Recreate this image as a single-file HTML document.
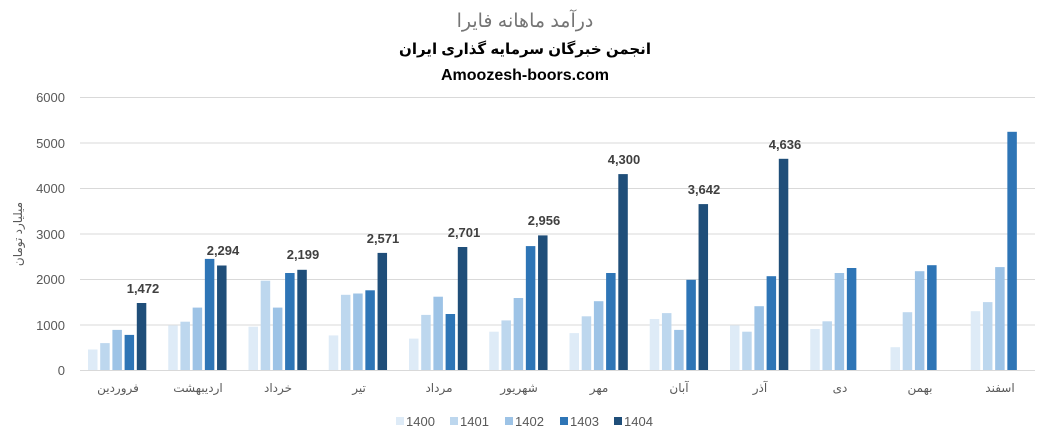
<!DOCTYPE html>
<html><head><meta charset="utf-8"><style>body{margin:0;background:#fff}svg{display:block}</style></head><body>
<svg width="1050" height="440" xmlns="http://www.w3.org/2000/svg" font-family="Liberation Sans, DejaVu Sans, sans-serif">
<text x="525" y="27" text-anchor="middle" font-size="19" fill="#757575">درآمد ماهانه فایرا</text>
<text x="525" y="54" text-anchor="middle" font-size="15" font-weight="bold" fill="#000">انجمن خبرگان سرمایه گذاری ایران</text>
<text x="525" y="80" text-anchor="middle" font-size="16" font-weight="bold" fill="#000">Amoozesh-boors.com</text>
<g stroke="#d9d9d9" stroke-width="1">
<line x1="80" x2="1035" y1="97.5" y2="97.5"/><line x1="80" x2="1035" y1="143" y2="143"/><line x1="80" x2="1035" y1="188.5" y2="188.5"/><line x1="80" x2="1035" y1="234" y2="234"/><line x1="80" x2="1035" y1="279.5" y2="279.5"/><line x1="80" x2="1035" y1="325" y2="325"/><line x1="80" x2="1035" y1="370.5" y2="370.5"/>
</g>
<g font-size="13" fill="#595959" text-anchor="end">
<text x="65" y="102">6000</text><text x="65" y="148">5000</text><text x="65" y="193">4000</text><text x="65" y="239">3000</text><text x="65" y="284">2000</text><text x="65" y="330">1000</text><text x="65" y="375">0</text>
</g>
<text transform="translate(22,234) rotate(-90)" text-anchor="middle" font-size="12" fill="#595959">میلیارد تومان</text>
<g id="bars">
<!-- g0 -->
<rect x="88" y="349.5" width="9.5" height="20.5" fill="#deebf7"/><rect x="100.2" y="343.1" width="9.5" height="26.9" fill="#bdd7ee"/><rect x="112.4" y="329.9" width="9.5" height="40.1" fill="#9dc3e6"/><rect x="124.6" y="334.9" width="9.5" height="35.1" fill="#2e75b6"/><rect x="136.8" y="303" width="9.5" height="67" fill="#1f4e79"/>
<!-- g1 -->
<rect x="168.25" y="325.4" width="9.5" height="44.6" fill="#deebf7"/><rect x="180.45" y="321.7" width="9.5" height="48.3" fill="#bdd7ee"/><rect x="192.65" y="307.6" width="9.5" height="62.4" fill="#9dc3e6"/><rect x="204.85" y="258.9" width="9.5" height="111.1" fill="#2e75b6"/><rect x="217.05" y="265.5" width="9.5" height="104.5" fill="#1f4e79"/>
<!-- g2 -->
<rect x="248.5" y="326.7" width="9.5" height="43.3" fill="#deebf7"/><rect x="260.7" y="280.7" width="9.5" height="89.3" fill="#bdd7ee"/><rect x="272.9" y="307.6" width="9.5" height="62.4" fill="#9dc3e6"/><rect x="285.1" y="273" width="9.5" height="97" fill="#2e75b6"/><rect x="297.3" y="269.8" width="9.5" height="100.2" fill="#1f4e79"/>
<!-- g3 -->
<rect x="328.75" y="335.4" width="9.5" height="34.6" fill="#deebf7"/><rect x="340.95" y="294.8" width="9.5" height="75.2" fill="#bdd7ee"/><rect x="353.15" y="293.5" width="9.5" height="76.5" fill="#9dc3e6"/><rect x="365.35" y="290.3" width="9.5" height="79.7" fill="#2e75b6"/><rect x="377.55" y="252.9" width="9.5" height="117.1" fill="#1f4e79"/>
<!-- g4 -->
<rect x="409" y="338.6" width="9.5" height="31.4" fill="#deebf7"/><rect x="421.2" y="314.9" width="9.5" height="55.1" fill="#bdd7ee"/><rect x="433.4" y="296.7" width="9.5" height="73.3" fill="#9dc3e6"/><rect x="445.6" y="314" width="9.5" height="56" fill="#2e75b6"/><rect x="457.8" y="247" width="9.5" height="123" fill="#1f4e79"/>
<!-- g5 -->
<rect x="489.25" y="331.7" width="9.5" height="38.3" fill="#deebf7"/><rect x="501.45" y="320.4" width="9.5" height="49.6" fill="#bdd7ee"/><rect x="513.65" y="298" width="9.5" height="72" fill="#9dc3e6"/><rect x="525.85" y="246.1" width="9.5" height="123.9" fill="#2e75b6"/><rect x="538.05" y="235.4" width="9.5" height="134.6" fill="#1f4e79"/>
<!-- g6 -->
<rect x="569.5" y="333.1" width="9.5" height="36.9" fill="#deebf7"/><rect x="581.7" y="316.3" width="9.5" height="53.7" fill="#bdd7ee"/><rect x="593.9" y="301.2" width="9.5" height="68.8" fill="#9dc3e6"/><rect x="606.1" y="273" width="9.5" height="97" fill="#2e75b6"/><rect x="618.3" y="174.1" width="9.5" height="195.9" fill="#1f4e79"/>
<!-- g7 -->
<rect x="649.75" y="319" width="9.5" height="51" fill="#deebf7"/><rect x="661.95" y="313.1" width="9.5" height="56.9" fill="#bdd7ee"/><rect x="674.15" y="329.9" width="9.5" height="40.1" fill="#9dc3e6"/><rect x="686.35" y="279.8" width="9.5" height="90.2" fill="#2e75b6"/><rect x="698.55" y="204.1" width="9.5" height="165.9" fill="#1f4e79"/>
<!-- g8 -->
<rect x="730" y="325.4" width="9.5" height="44.6" fill="#deebf7"/><rect x="742.2" y="331.7" width="9.5" height="38.3" fill="#bdd7ee"/><rect x="754.4" y="306.2" width="9.5" height="63.8" fill="#9dc3e6"/><rect x="766.6" y="276.2" width="9.5" height="93.8" fill="#2e75b6"/><rect x="778.8" y="158.8" width="9.5" height="211.2" fill="#1f4e79"/>
<!-- g9 -->
<rect x="810.25" y="329" width="9.5" height="41" fill="#deebf7"/><rect x="822.45" y="321.3" width="9.5" height="48.7" fill="#bdd7ee"/><rect x="834.65" y="273" width="9.5" height="97" fill="#9dc3e6"/><rect x="846.85" y="268" width="9.5" height="102" fill="#2e75b6"/>
<!-- g10 -->
<rect x="890.5" y="347.2" width="9.5" height="22.8" fill="#deebf7"/><rect x="902.7" y="312.2" width="9.5" height="57.8" fill="#bdd7ee"/><rect x="914.9" y="271.2" width="9.5" height="98.8" fill="#9dc3e6"/><rect x="927.1" y="265.2" width="9.5" height="104.8" fill="#2e75b6"/>
<!-- g11 -->
<rect x="970.75" y="311.2" width="9.5" height="58.8" fill="#deebf7"/><rect x="982.95" y="302.1" width="9.5" height="67.9" fill="#bdd7ee"/><rect x="995.15" y="267.1" width="9.5" height="102.9" fill="#9dc3e6"/><rect x="1007.35" y="131.8" width="9.5" height="238.2" fill="#2e75b6"/>
</g>
<g font-size="13" font-weight="bold" fill="#404040" text-anchor="middle">
<text x="143" y="293">1,472</text><text x="223" y="255">2,294</text><text x="303" y="259">2,199</text><text x="383" y="243">2,571</text><text x="464" y="237">2,701</text><text x="544" y="225">2,956</text><text x="624" y="164">4,300</text><text x="704" y="194">3,642</text><text x="785" y="149">4,636</text>
</g>
<g font-size="12" fill="#595959" text-anchor="middle">
<text x="118" y="392">فروردین</text><text x="198" y="392">اردیبهشت</text><text x="278" y="392">خرداد</text><text x="359" y="392">تیر</text><text x="439" y="392">مرداد</text><text x="519" y="392">شهریور</text><text x="599" y="392">مهر</text><text x="679" y="392">آبان</text><text x="760" y="392">آذر</text><text x="840" y="392">دی</text><text x="920" y="392">بهمن</text><text x="1000" y="392">اسفند</text>
</g>
<g font-size="13" fill="#595959">
<rect x="396" y="417" width="8" height="8" fill="#deebf7"/><text x="406" y="426">1400</text>
<rect x="450" y="417" width="8" height="8" fill="#bdd7ee"/><text x="460" y="426">1401</text>
<rect x="505" y="417" width="8" height="8" fill="#9dc3e6"/><text x="515" y="426">1402</text>
<rect x="560" y="417" width="8" height="8" fill="#2e75b6"/><text x="570" y="426">1403</text>
<rect x="614" y="417" width="8" height="8" fill="#1f4e79"/><text x="624" y="426">1404</text>
</g>
</svg>
</body></html>
